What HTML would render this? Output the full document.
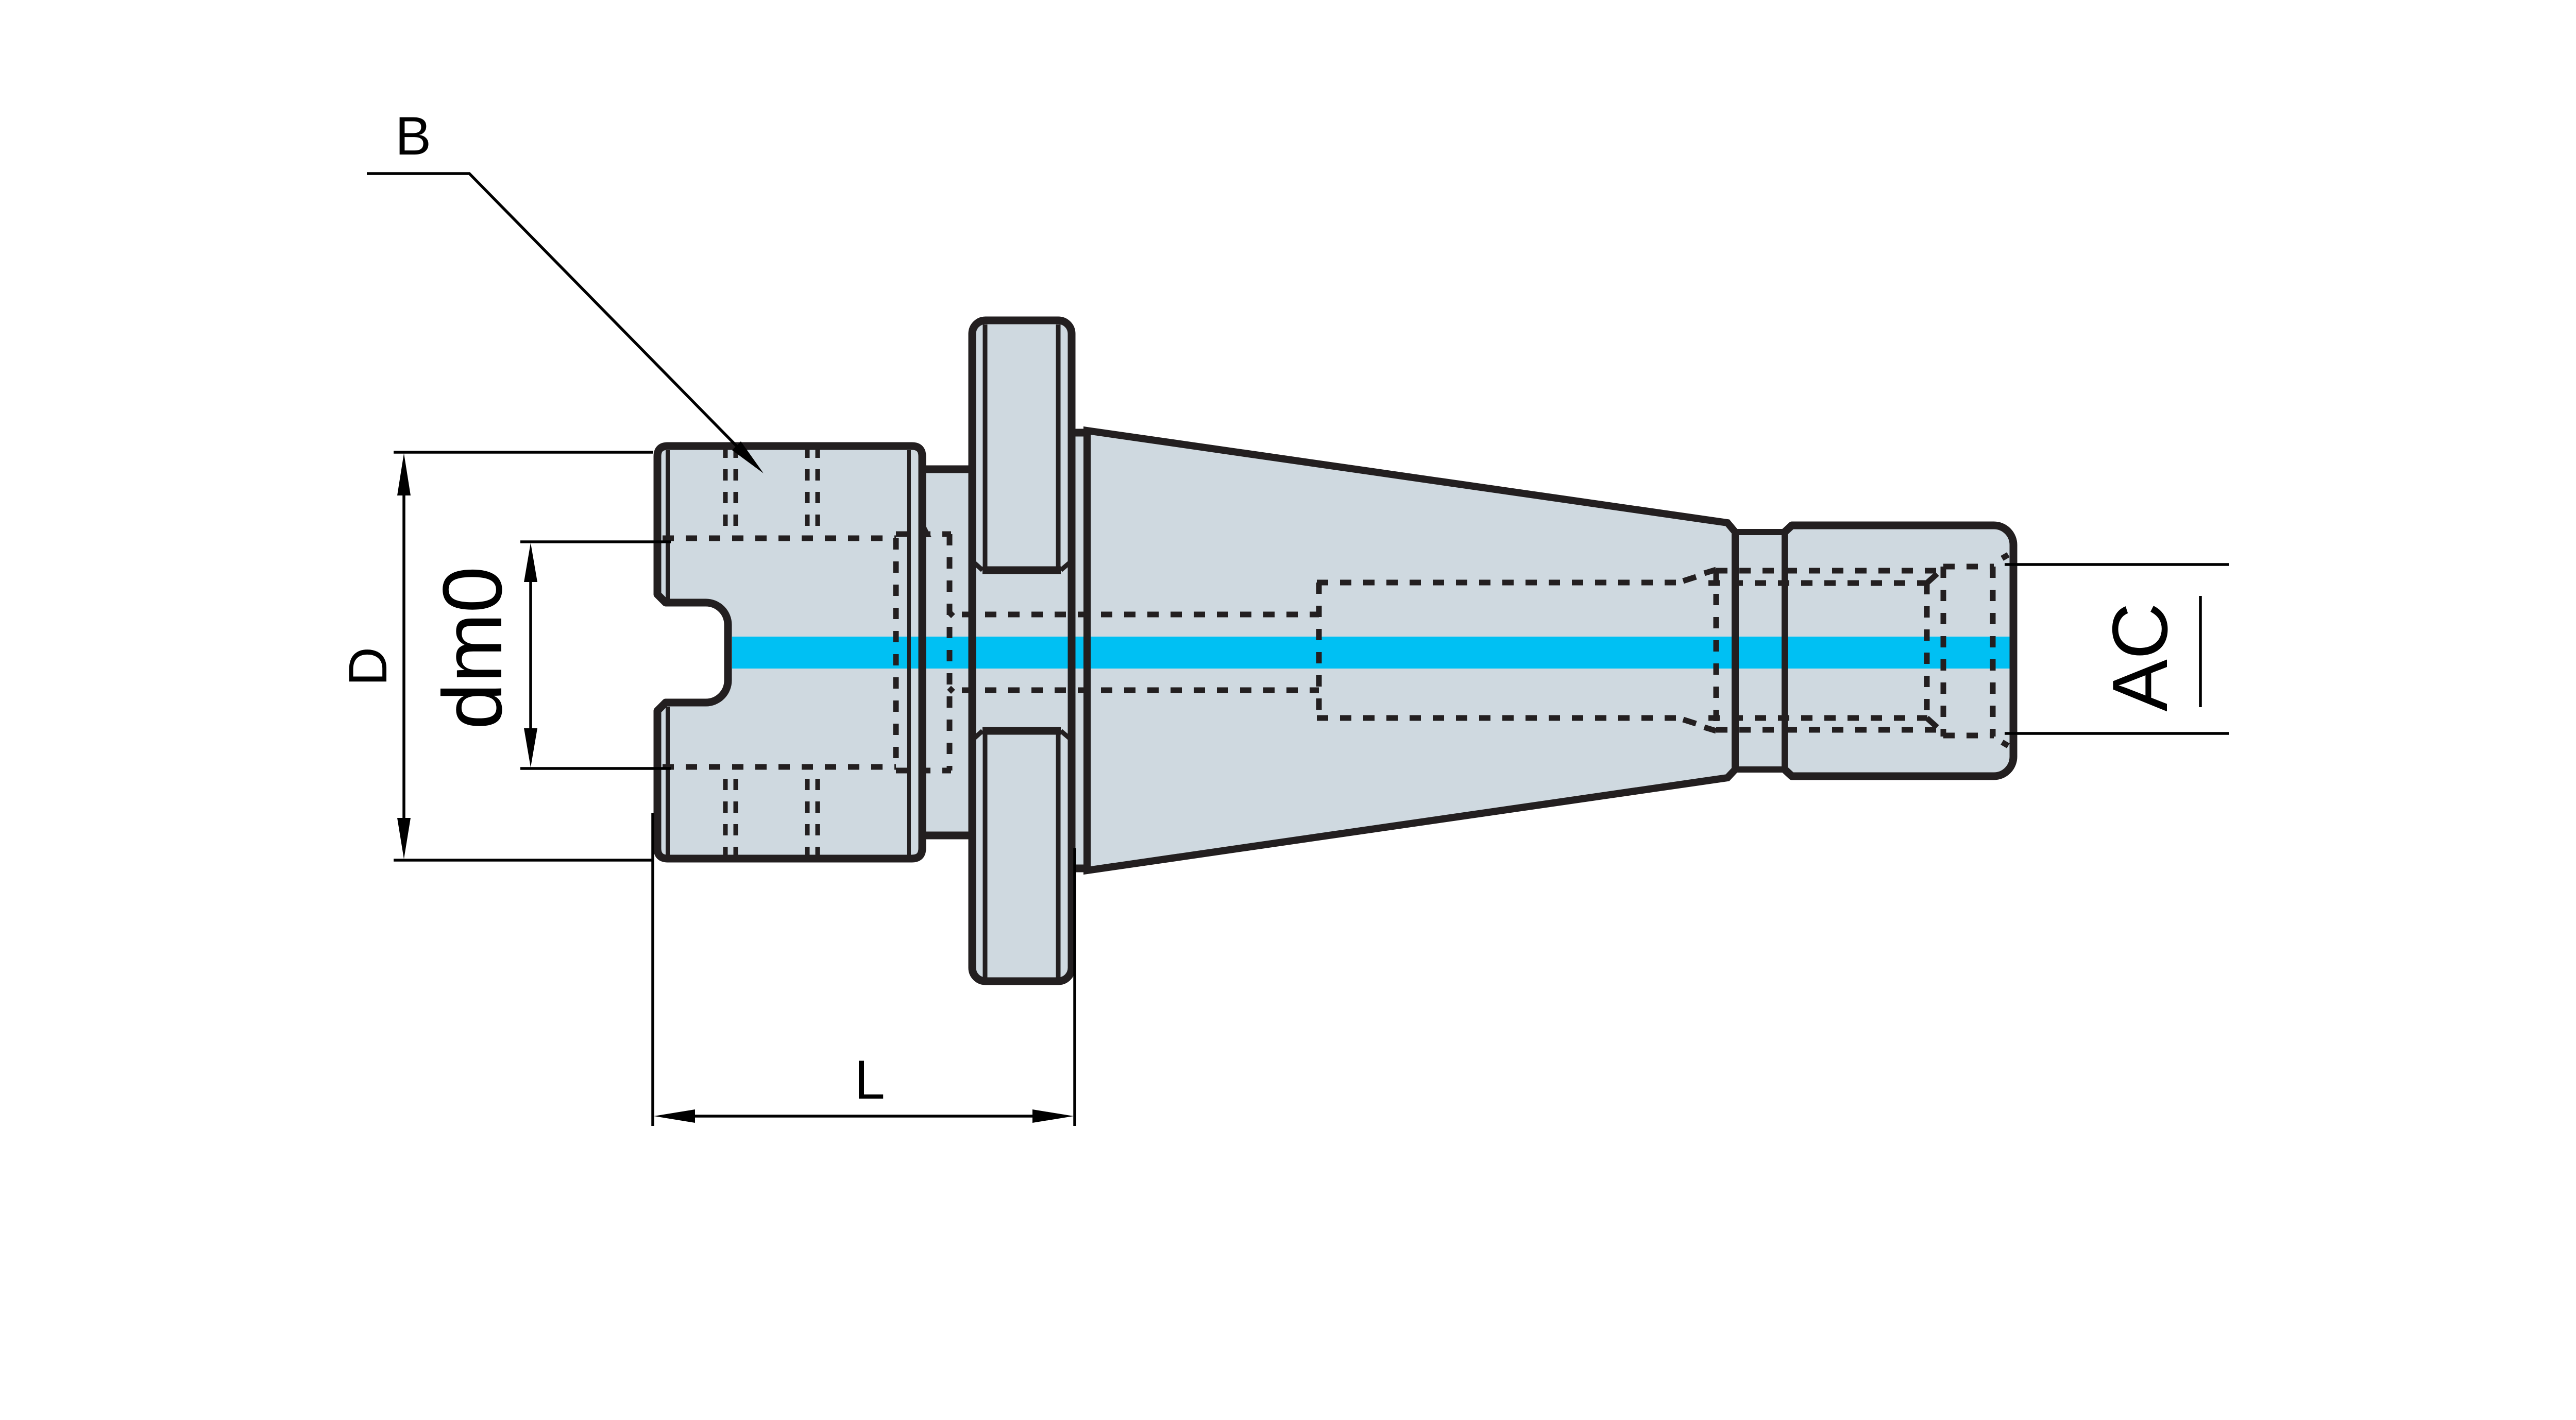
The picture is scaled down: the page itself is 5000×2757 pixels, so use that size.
<!DOCTYPE html>
<html>
<head>
<meta charset="utf-8">
<style>
  html,body{margin:0;padding:0;background:#fff;}
  svg{display:block;}
  text{font-family:"Liberation Sans", Arial, sans-serif;fill:#000;}
</style>
</head>
<body>
<svg width="5000" height="2757" viewBox="0 0 5000 2757" xmlns="http://www.w3.org/2000/svg">
  <rect x="0" y="0" width="5000" height="2757" fill="#ffffff"/>

  <!-- ===== FILLS ===== -->
  <g fill="#CFD9E0" stroke="none">
    <path d="M1276 1154 L1276 886 Q1276 866 1296 866 L1770 866 Q1790 866 1790 886 L1790 1647 Q1790 1667 1770 1667 L1296 1667 Q1276 1667 1276 1647 L1276 1380 L1292 1364 L1370 1364 A43 43 0 0 0 1413 1321 L1413 1213 A43 43 0 0 0 1370 1170 L1292 1170 Z"/>
    <rect x="1790" y="911" width="95" height="711"/>
    <rect x="1887" y="622" width="193" height="1283" rx="26" ry="26"/>
    <rect x="2080" y="840" width="32" height="846"/>
    <polygon points="2110,836 3353,1015 3368,1033 3368,1494 3353,1510 2110,1690"/>
    <rect x="3368" y="1033" width="96" height="461"/>
    <path d="M3464 1033 L3478 1020 L3870 1020 A38 38 0 0 1 3908 1058 L3908 1469 A38 38 0 0 1 3870 1507 L3478 1507 L3464 1494 Z"/>
  </g>

  <!-- ===== BLUE AXIS BAND ===== -->
  <rect x="1421" y="1236" width="2481" height="62" fill="#00C0F3"/>

  <!-- ===== HIDDEN (DASHED) LINES ===== -->
  <g stroke="#231F20" stroke-width="11" fill="none" stroke-dasharray="22 23">
    <!-- left block bore -->
    <line x1="1286" y1="1045" x2="1739" y2="1045"/>
    <line x1="1286" y1="1489" x2="1739" y2="1489"/>
    <line x1="1739" y1="1045" x2="1739" y2="1489"/>
    <line x1="1739" y1="1037" x2="1846" y2="1037"/>
    <line x1="1739" y1="1496" x2="1846" y2="1496"/>
    <line x1="1843" y1="1037" x2="1843" y2="1496"/>
    <!-- through bore -->
    <line x1="1867" y1="1193" x2="2560" y2="1193"/>
    <line x1="1867" y1="1340" x2="2560" y2="1340"/>
    <!-- taper inner -->
    <line x1="2560" y1="1131" x2="2560" y2="1394"/>
    <line x1="2556" y1="1131" x2="3262" y2="1131"/>
    <line x1="2556" y1="1394" x2="3262" y2="1394"/>
    <line x1="3316" y1="1132" x2="3741" y2="1132"/>
    <line x1="3316" y1="1394" x2="3741" y2="1394"/>
    <line x1="3331" y1="1108" x2="3768" y2="1108"/>
    <line x1="3331" y1="1417" x2="3768" y2="1417"/>
    <line x1="3331" y1="1108" x2="3331" y2="1417"/>
    <line x1="3740" y1="1132" x2="3740" y2="1394"/>
    <line x1="3772" y1="1100" x2="3772" y2="1430"/>
    <line x1="3868" y1="1100" x2="3868" y2="1430"/>
    <line x1="3772" y1="1100" x2="3870" y2="1100"/>
    <line x1="3772" y1="1428" x2="3870" y2="1428"/>
  </g>
  <g stroke="#231F20" stroke-width="11" fill="none">
    <line x1="3267" y1="1128" x2="3292" y2="1120"/>
    <line x1="3308" y1="1113" x2="3331" y2="1106"/>
    <line x1="3267" y1="1397" x2="3292" y2="1405"/>
    <line x1="3308" y1="1412" x2="3331" y2="1419"/>
    <line x1="3740" y1="1132" x2="3760" y2="1114"/>
    <line x1="3740" y1="1394" x2="3760" y2="1412"/>
    <line x1="3886" y1="1084" x2="3898" y2="1077"/>
    <line x1="3886" y1="1441" x2="3898" y2="1448"/>
  </g>
  <!-- diamonds -->
  <g fill="#231F20">
    <rect x="1840" y="1187" width="11" height="11" transform="rotate(45 1846 1193)"/>
    <rect x="1840" y="1334" width="11" height="11" transform="rotate(45 1846 1340)"/>
    <polygon points="1797,1021 1786,1043 1808,1043"/>
  </g>

  <!-- small pairs of dashed lines in left block -->
  <g stroke="#231F20" stroke-width="9" fill="none" stroke-dasharray="22 22">
    <line x1="1408" y1="867" x2="1408" y2="1030"/>
    <line x1="1428" y1="867" x2="1428" y2="1030"/>
    <line x1="1567" y1="867" x2="1567" y2="1030"/>
    <line x1="1587" y1="867" x2="1587" y2="1030"/>
    <line x1="1408" y1="1512" x2="1408" y2="1666"/>
    <line x1="1428" y1="1512" x2="1428" y2="1666"/>
    <line x1="1567" y1="1512" x2="1567" y2="1666"/>
    <line x1="1587" y1="1512" x2="1587" y2="1666"/>
  </g>

  <!-- ===== OUTLINES ===== -->
  <g stroke="#231F20" fill="none" stroke-linejoin="round">
    <!-- body -->
    <path stroke-width="15" d="M1276 1154 L1276 886 Q1276 866 1296 866 L1770 866 Q1790 866 1790 886 L1790 1647 Q1790 1667 1770 1667 L1296 1667 Q1276 1667 1276 1647 L1276 1380 L1292 1364 L1370 1364 A43 43 0 0 0 1413 1321 L1413 1213 A43 43 0 0 0 1370 1170 L1292 1170 Z"/>
    <!-- body inner lines -->
    <line stroke-width="8" x1="1296" y1="874" x2="1296" y2="1163"/>
    <line stroke-width="8" x1="1296" y1="1372" x2="1296" y2="1660"/>
    <line stroke-width="8" x1="1764" y1="874" x2="1764" y2="1660"/>
    <!-- neck -->
    <line stroke-width="15" x1="1790" y1="911" x2="1885" y2="911"/>
    <line stroke-width="15" x1="1790" y1="1622" x2="1885" y2="1622"/>
    <!-- flange -->
    <rect stroke-width="15" x="1887" y="622" width="193" height="1283" rx="26" ry="26"/>
    <line stroke-width="9" x1="1912" y1="630" x2="1912" y2="1107"/>
    <line stroke-width="9" x1="2054" y1="630" x2="2054" y2="1107"/>
    <line stroke-width="9" x1="1912" y1="1419" x2="1912" y2="1898"/>
    <line stroke-width="9" x1="2054" y1="1419" x2="2054" y2="1898"/>
    <line stroke-width="15" x1="1907" y1="1107" x2="2059" y2="1107"/>
    <line stroke-width="15" x1="1907" y1="1419" x2="2059" y2="1419"/>
    <line stroke-width="9" x1="1888" y1="1090" x2="1907" y2="1107"/>
    <line stroke-width="9" x1="2079" y1="1090" x2="2059" y2="1107"/>
    <line stroke-width="9" x1="1888" y1="1436" x2="1907" y2="1419"/>
    <line stroke-width="9" x1="2079" y1="1436" x2="2059" y2="1419"/>
    <!-- strip -->
    <line stroke-width="15" x1="2080" y1="840" x2="2112" y2="840"/>
    <line stroke-width="15" x1="2080" y1="1686" x2="2112" y2="1686"/>
    <!-- taper -->
    <polygon stroke-width="14" stroke-linejoin="miter" points="2110,836 3353,1015 3368,1033 3368,1494 3353,1510 2110,1690"/>
    <!-- small neck -->
    <line stroke-width="12" x1="3368" y1="1033" x2="3464" y2="1033"/>
    <line stroke-width="12" x1="3368" y1="1494" x2="3464" y2="1494"/>
    <line stroke-width="12" x1="3464" y1="1030" x2="3464" y2="1497"/>
    <!-- nose -->
    <path stroke-width="15" d="M3464 1033 L3478 1020 L3870 1020 A38 38 0 0 1 3908 1058 L3908 1469 A38 38 0 0 1 3870 1507 L3478 1507 L3464 1494"/>
  </g>

  <!-- ===== DIMENSIONS ===== -->
  <g stroke="#000" stroke-width="5.5" fill="none">
    <!-- B leader -->
    <polyline points="712,337 911,337 1470,907"/>
    <!-- D -->
    <line x1="764" y1="878" x2="1268" y2="878"/>
    <line x1="764" y1="1670" x2="1266" y2="1670"/>
    <line x1="784" y1="950" x2="784" y2="1600"/>
    <!-- dm0 -->
    <line x1="1010" y1="1052" x2="1302" y2="1052"/>
    <line x1="1010" y1="1492" x2="1302" y2="1492"/>
    <line x1="1030" y1="1120" x2="1030" y2="1425"/>
    <!-- L -->
    <line x1="1267" y1="1578" x2="1267" y2="2186"/>
    <line x1="2086" y1="1647" x2="2086" y2="2186"/>
    <line x1="1340" y1="2167" x2="2015" y2="2167"/>
    <!-- AC -->
    <line x1="3891" y1="1096" x2="4326" y2="1096"/>
    <line x1="3891" y1="1424" x2="4326" y2="1424"/>
    <line x1="4271" y1="1157" x2="4271" y2="1373"/>
  </g>
  <g fill="#000" stroke="none">
    <!-- B arrow -->
    <polygon points="1482,919 1421,874 1438,857"/>
    <!-- D arrows -->
    <polygon points="784,880 771,962 797,962"/>
    <polygon points="784,1668 771,1588 797,1588"/>
    <!-- dm0 arrows -->
    <polygon points="1030,1054 1017,1130 1043,1130"/>
    <polygon points="1030,1490 1017,1414 1043,1414"/>
    <!-- L arrows -->
    <polygon points="1269,2167 1349,2154 1349,2180"/>
    <polygon points="2084,2167 2004,2154 2004,2180"/>
  </g>

  <!-- ===== LABELS ===== -->
  <text x="802" y="300" font-size="105" text-anchor="middle">B</text>
  <text x="1688" y="2133" font-size="107" text-anchor="middle">L</text>
  <text transform="translate(750 1294) rotate(-90)" font-size="105" text-anchor="middle">D</text>
  <text transform="translate(973 1258) rotate(-90)" font-size="163" text-anchor="middle">dm0</text>
  <text transform="translate(4206 1276) rotate(-90)" font-size="152" text-anchor="middle">AC</text>
</svg>
</body>
</html>
